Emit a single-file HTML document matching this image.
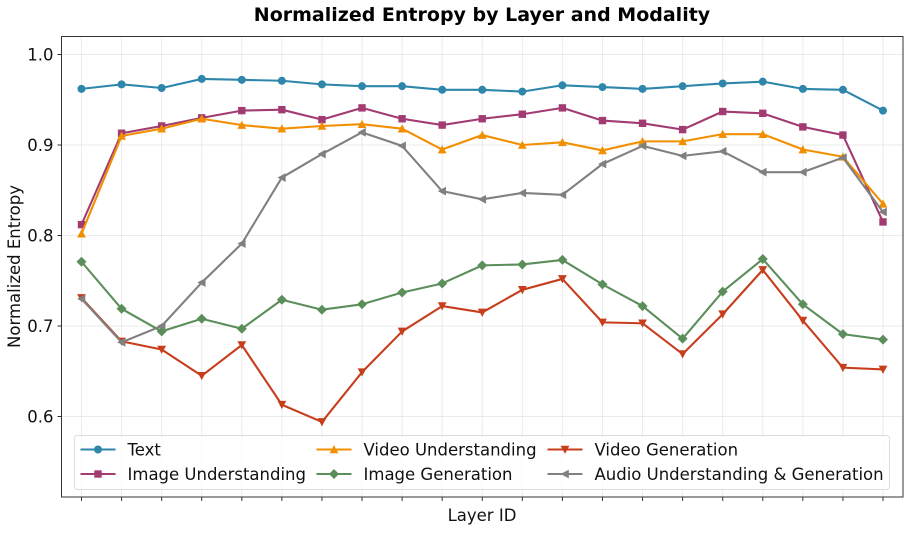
<!DOCTYPE html>
<html>
<head>
<meta charset="utf-8">
<style>
html,body{margin:0;padding:0;background:#fff;}
svg{display:block;}
text{font-family:"DejaVu Sans","Liberation Sans",sans-serif;fill:#111;}
</style>
</head>
<body>
<svg id="chart" xmlns="http://www.w3.org/2000/svg" width="911" height="533" viewBox="0 0 911 533">
<text x="482" y="21" text-anchor="middle" font-size="19" font-weight="bold" style="fill:#000">Normalized Entropy by Layer and Modality</text>
<text x="482" y="521" text-anchor="middle" font-size="16.5">Layer ID</text>
<text transform="translate(20 266.5) rotate(-90)" text-anchor="middle" font-size="16.5">Normalized Entropy</text>
<g id="grid"></g>
<g id="series"></g>
<g id="ticks"></g>
<rect x="61.5" y="36.5" width="841.5" height="460.5" fill="none" stroke="#333" stroke-width="1"/>
<g id="legend">
<rect x="74.5" y="435.5" width="815" height="54" rx="3" fill="#fff" fill-opacity="0.8" stroke="#ddd" stroke-width="1"/>
</g>
</svg>
<script>
const layers = ["1","2","3","4","5","6","7","8","9","10","11","12","13","14","15","16","17","18","19","20","21"];
const yTicks = [0.6, 0.7, 0.8, 0.9, 1.0];
const textValues = [0.962,0.967,0.963,0.973,0.972,0.971,0.967,0.965,0.965,0.961,0.961,0.959,0.966,0.964,0.962,0.965,0.968,0.970,0.962,0.961,0.938];
const imageUnderstandingValues = [0.812,0.913,0.921,0.930,0.938,0.939,0.928,0.941,0.929,0.922,0.929,0.934,0.941,0.927,0.924,0.917,0.937,0.935,0.920,0.911,0.815];
const videoUnderstandingValues = [0.802,0.910,0.918,0.929,0.922,0.918,0.921,0.923,0.918,0.895,0.911,0.900,0.903,0.894,0.904,0.904,0.912,0.912,0.895,0.887,0.835];
const imageGenerationValues = [0.771,0.719,0.694,0.708,0.697,0.729,0.718,0.724,0.737,0.747,0.767,0.768,0.773,0.746,0.722,0.686,0.738,0.774,0.724,0.691,0.685];
const videoGenerationValues = [0.731,0.683,0.674,0.645,0.679,0.613,0.594,0.649,0.694,0.722,0.715,0.740,0.752,0.704,0.703,0.669,0.713,0.762,0.706,0.654,0.652];
const audioValues = [0.730,0.682,0.700,0.748,0.791,0.864,0.890,0.914,0.899,0.849,0.840,0.847,0.845,0.879,0.899,0.888,0.893,0.870,0.870,0.886,0.826];

const NS = "http://www.w3.org/2000/svg";
function xScale(i){ return 81.5 + i * (883 - 81.5) / (layers.length - 1); }
function yScale(v){ return 54.5 + (1.0 - v) * 905; }

function mk(tag, attrs, parent){
  const e = document.createElementNS(NS, tag);
  for (const k in attrs) e.setAttribute(k, attrs[k]);
  parent.appendChild(e);
  return e;
}

function drawMarker(kind, x, y, color, parent){
  let el;
  if (kind === "circle") {
    el = mk("circle", {cx:x, cy:y, r:4, fill:color}, parent);
  } else {
    let pts;
    if (kind === "square") pts = [[-3.7,-3.7],[3.7,-3.7],[3.7,3.7],[-3.7,3.7]];
    if (kind === "up") pts = [[0,-4.4],[4.4,3.8],[-4.4,3.8]];
    if (kind === "down") pts = [[0,4.4],[4.4,-3.8],[-4.4,-3.8]];
    if (kind === "diamond") pts = [[0,-5],[5,0],[0,5],[-5,0]];
    if (kind === "left") pts = [[-4.4,0],[3.8,-4.4],[3.8,4.4]];
    el = mk("polygon", {points: pts.map(p => (x + p[0]) + "," + (y + p[1])).join(" "), fill:color}, parent);
  }
  return el;
}

const gridG = document.getElementById("grid");
const tickG = document.getElementById("ticks");

layers.forEach((l, i) => {
  const x = xScale(i);
  const g = mk("line", {x1:x, x2:x, y1:36.5, y2:497, stroke:"#b0b0b0", "stroke-width":1, "stroke-opacity":0.25}, gridG);
  
  
  const t = mk("line", {x1:x, x2:x, y1:497, y2:501, stroke:"#333", "stroke-width":1}, tickG);
  
  
});

yTicks.forEach(v => {
  const y = yScale(v);
  const g = mk("line", {x1:61.5, x2:903, y1:y, y2:y, stroke:"#b0b0b0", "stroke-width":1, "stroke-opacity":0.25}, gridG);
  
  
  const t = mk("line", {x1:57.5, x2:61.5, y1:y, y2:y, stroke:"#333", "stroke-width":1}, tickG);
  
  
  const lab = mk("text", {x:53.5, y:y + 6, "text-anchor":"end", "font-size":16.5}, tickG);
  
  
  lab.textContent = v.toFixed(1);
});

const seriesNames = ["Text","Image Understanding","Video Understanding","Image Generation","Video Generation","Audio Understanding & Generation"];
const seriesData = [textValues,imageUnderstandingValues,videoUnderstandingValues,imageGenerationValues,videoGenerationValues,audioValues];
const seriesColors = ["#2e86ab","#a23b72","#f18f01","#5b8e5a","#c73e1d","#808080"];
const seriesMarkers = ["circle","square","up","diamond","down","left"];

const seriesG = document.getElementById("series");
seriesData.forEach((vals, s) => {
  const g = mk("g", {}, seriesG);
  
  
  mk("polyline", {
    points: vals.map((v, i) => xScale(i) + "," + yScale(v)).join(" "),
    fill:"none", stroke:seriesColors[s], "stroke-width":2.1, "stroke-linejoin":"round"
  }, g);
  vals.forEach((v, i) => {
    const m = drawMarker(seriesMarkers[s], xScale(i), yScale(v), seriesColors[s], g);
    
    
  });
});

const legendG = document.getElementById("legend");
const legendCols = [80.5, 316.5, 547.5];
const legendRows = [449.5, 474];
const legendOrder = [[0,0,0],[1,0,1],[2,1,0],[3,1,1],[4,2,0],[5,2,1]];
legendOrder.forEach(o => {
  const s = o[0], x = legendCols[o[1]], y = legendRows[o[2]];
  const g = mk("g", {}, legendG);
  
  
  mk("line", {x1:x, x2:x + 35, y1:y, y2:y, stroke:seriesColors[s], "stroke-width":2.1}, g);
  drawMarker(seriesMarkers[s], x + 17.5, y, seriesColors[s], g);
  const t = mk("text", {x:x + 47, y:y + 6, "font-size":16.5}, g);
  t.textContent = seriesNames[s];
});
</script>
</body>
</html>
